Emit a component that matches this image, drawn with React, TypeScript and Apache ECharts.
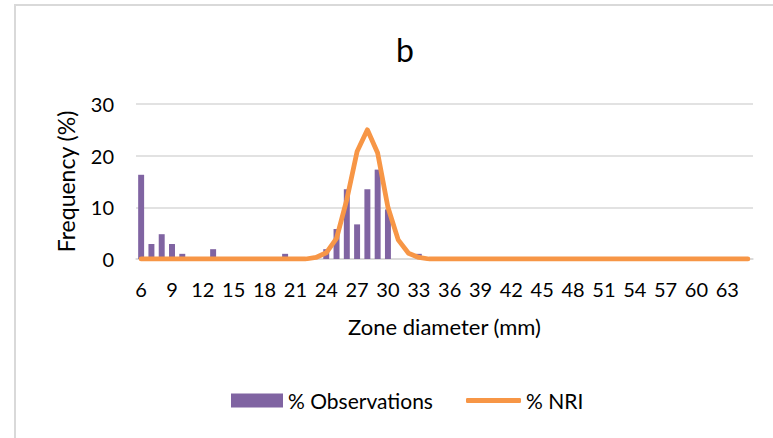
import React, { useEffect, useRef } from "react";
import * as echarts from "echarts";

const categories = [
  "6", "7", "8", "9", "10", "11", "12", "13", "14", "15", "16", "17", "18", "19", "20",
  "21", "22", "23", "24", "25", "26", "27", "28", "29", "30", "31", "32", "33", "34", "35",
  "36", "37", "38", "39", "40", "41", "42", "43", "44", "45", "46", "47", "48", "49", "50",
  "51", "52", "53", "54", "55", "56", "57", "58", "59", "60", "61", "62", "63", "64", "65",
];

// % Observations (6..65)
const observations = [
  16.3, 2.9, 4.8, 2.9, 1.0, 0, 0, 1.9, 0, 0, 0, 0, 0, 0, 1.0,
  0, 0, 0, 1.9, 5.8, 13.5, 6.7, 13.5, 17.3, 9.6, 0, 0, 1.0, 0, 0,
  0, 0, 0, 0, 0, 0, 0, 0, 0, 0, 0, 0, 0, 0, 0,
  0, 0, 0, 0, 0, 0, 0, 0, 0, 0, 0, 0, 0, 0, 0,
];

// % NRI (6..65)
const nri = [
  0, 0, 0, 0, 0, 0, 0, 0, 0, 0, 0, 0, 0, 0, 0,
  0, 0, 0.3, 1.2, 4.0, 11.5, 20.8, 25.0, 20.5, 10.0, 3.7, 1.1, 0.3, 0, 0,
  0, 0, 0, 0, 0, 0, 0, 0, 0, 0, 0, 0, 0, 0, 0,
  0, 0, 0, 0, 0, 0, 0, 0, 0, 0, 0, 0, 0, 0, 0,
];

const yTicks = { min: 0, max: 30, interval: 10 };

const FONT = "Lato";
const PURPLE = "#8064A2";
const ORANGE = "#F79646";

export default function App() {
  const ref = useRef<HTMLDivElement>(null);
  useEffect(() => {
    if (!ref.current) return;
    const chart = echarts.init(ref.current, undefined, { renderer: "svg" });
    const legendText = { fontFamily: FONT, fontSize: 21, color: "#000000" };
    chart.setOption({
      animation: false,
      backgroundColor: "#ffffff",
      textStyle: { fontFamily: FONT },
      title: {
        text: "b",
        left: 391,
        top: 28,
        textStyle: { fontFamily: FONT, fontSize: 32, fontWeight: "normal", color: "#000000" },
      },
      graphic: [
        {
          type: "rect",
          shape: { x: 15, y: 5, width: 800, height: 500 },
          style: { fill: "none", stroke: "#d9d9d9", lineWidth: 2 },
          silent: true,
        },
      ],
      legend: [
        {
          left: 231,
          top: 390,
          padding: 0,
          itemWidth: 52,
          itemHeight: 14,
          textStyle: legendText,
          data: [{ name: "% Observations", icon: "rect" }],
        },
        {
          left: 466,
          top: 390,
          padding: 0,
          itemWidth: 55,
          itemHeight: 5,
          textStyle: legendText,
          data: [{ name: "% NRI", icon: "roundRect" }],
        },
      ],
      grid: { left: 136, right: 20, top: 104, bottom: 179, containLabel: false },
      xAxis: {
        type: "category",
        data: categories,
        boundaryGap: true,
        name: "Zone diameter (mm)",
        nameLocation: "middle",
        nameGap: 56,
        nameTextStyle: { fontFamily: FONT, fontSize: 22, color: "#000000" },
        axisLine: { lineStyle: { color: "#d9d9d9", width: 1.5 } },
        axisTick: { show: false },
        axisLabel: {
          interval: 2,
          margin: 20,
          fontFamily: FONT,
          fontSize: 20,
          color: "#000000",
        },
      },
      yAxis: {
        type: "value",
        min: yTicks.min,
        max: yTicks.max,
        interval: yTicks.interval,
        name: "Frequency (%)",
        nameLocation: "middle",
        nameGap: 59,
        nameTextStyle: { fontFamily: FONT, fontSize: 23, color: "#000000" },
        axisLine: { show: false },
        axisTick: { show: false },
        axisLabel: { margin: 22, fontFamily: FONT, fontSize: 20, color: "#000000" },
        splitLine: { lineStyle: { color: "#d9d9d9", width: 1.5 } },
      },
      series: [
        {
          name: "% Observations",
          type: "bar",
          data: observations,
          barCategoryGap: "42%",
          itemStyle: { color: PURPLE },
          z: 2,
        },
        {
          name: "% NRI",
          type: "line",
          data: nri,
          symbol: "none",
          showSymbol: false,
          smooth: false,
          lineStyle: { color: ORANGE, width: 4.8, cap: "round", join: "round" },
          itemStyle: { color: ORANGE },
          z: 3,
        },
      ],
    });
    return () => chart.dispose();
  }, []);
  return (
    <div
      ref={ref}
      style={{ position: "fixed", left: 0, top: 0, width: 773, height: 438 }}
    />
  );
}
